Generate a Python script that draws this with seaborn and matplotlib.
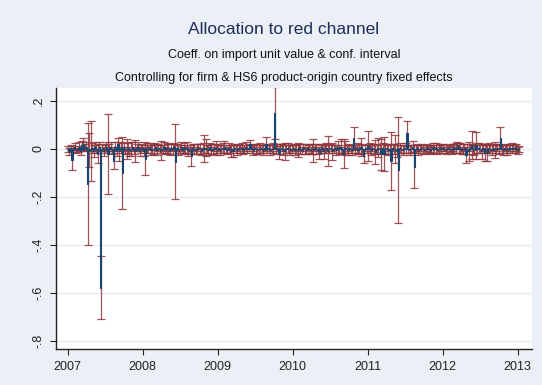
import numpy as np
import pandas as pd
import matplotlib
matplotlib.use("Agg")
import matplotlib.pyplot as plt
import seaborn as sns

# Weekly coefficients on import unit value and 95% CI half-widths, 2007-2013
start_date = "2007-01-01"

coef = [
    # 2007
    0.0, -0.01, 0.005, -0.045, 0.0, 0.01, -0.005, 0.0, 0.01, -0.01, 0.015, 0.02, 0.005,
    0.01, -0.145, -0.004, -0.007, 0.005, -0.01, 0.01, 0.0, -0.02, 0.01, -0.578, 0.005, -0.01,
    0.0, 0.01, -0.022, 0.005, 0.01, -0.005, -0.05, 0.01, -0.01, 0.02, -0.01, 0.005, -0.1,
    0.01, -0.005, 0.0, 0.005, -0.01, 0.0, 0.01, -0.005, -0.008, 0.005, 0.01, -0.01, 0.0,
    # 2008
    0.005, -0.01, -0.04, 0.005, 0.0, 0.01, -0.005, 0.0, 0.0, 0.01, -0.005, 0.005, 0.0,
    -0.005, 0.0, 0.01, -0.005, 0.005, 0.0, -0.01, 0.005, 0.0, 0.01, -0.053, 0.005, -0.005,
    0.0, 0.01, -0.005, 0.005, 0.0, 0.005, -0.01, 0.0, -0.03, 0.005, 0.0, -0.005, 0.0,
    0.005, 0.0, -0.01, 0.005, 0.003, 0.005, 0.0, -0.005, 0.01, 0.0, -0.005, 0.005, 0.005,
    # 2009
    0.0, 0.005, -0.005, 0.0, 0.005, 0.01, 0.0, -0.005, 0.005, 0.0, -0.01, -0.01, 0.005,
    0.0, -0.005, 0.005, 0.0, 0.005, -0.005, 0.0, 0.01, 0.0, 0.005, 0.022, 0.0, -0.005,
    0.005, 0.0, -0.005, 0.0, 0.005, 0.0, -0.005, 0.005, 0.02, 0.0, 0.005, -0.005, 0.0,
    0.005, 0.15, 0.0, 0.005, -0.015, 0.0, 0.005, -0.005, -0.01, 0.0, 0.005, 0.0, -0.005,
    # 2010
    0.0, 0.005, -0.005, 0.0, -0.005, 0.005, 0.0, -0.005, 0.005, 0.0, -0.005, 0.005, 0.0,
    -0.005, 0.0, -0.006, 0.005, 0.0, -0.005, -0.015, 0.0, 0.005, -0.01, 0.0, 0.005, -0.008,
    0.0, 0.005, -0.01, 0.0, 0.005, -0.005, 0.01, 0.0, 0.01, -0.005, -0.02, 0.005, 0.0,
    -0.005, 0.005, 0.0, -0.005, 0.045, 0.0, 0.005, -0.005, 0.0, 0.007, 0.0, -0.03, 0.005,
    # 2011
    0.0, 0.013, 0.005, -0.005, 0.005, 0.0, -0.013, 0.0, 0.005, 0.0, -0.022, 0.005, -0.02,
    0.0, 0.005, -0.005, 0.0, -0.05, 0.005, 0.0, 0.0, -0.01, -0.088, 0.005, 0.0, -0.005,
    0.0, 0.005, 0.065, 0.0, -0.005, 0.0, 0.01, -0.073, 0.0, 0.005, -0.005, 0.0, 0.005,
    0.0, -0.005, 0.0, 0.005, 0.0, -0.005, 0.0, 0.005, 0.0, 0.005, -0.005, 0.0, 0.005,
    # 2012
    0.0, 0.005, 0.0, -0.005, 0.0, 0.005, 0.0, -0.005, 0.005, 0.0, 0.005, 0.015, 0.005,
    0.005, -0.005, 0.0, 0.005, -0.025, 0.0, -0.01, 0.005, 0.016, 0.0, -0.005, 0.015, 0.005,
    0.005, 0.0, -0.01, 0.005, -0.015, 0.0, -0.015, 0.005, 0.0, -0.005, 0.005, -0.005, 0.0,
    0.005, 0.0, 0.045, 0.0, -0.005, 0.005, 0.0, -0.005, 0.005, 0.0, 0.005, 0.005, 0.0,
    # 2013
    0.005, -0.005, 0.0,
]

half_width = [
    # 2007
    0.012, 0.015, 0.010, 0.042, 0.012, 0.015, 0.010, 0.012, 0.020, 0.015, 0.020, 0.025, 0.015,
    0.02, 0.255, 0.07, 0.125, 0.02, 0.025, 0.02, 0.015, 0.04, 0.02, 0.132, 0.015, 0.02,
    0.015, 0.02, 0.167, 0.015, 0.02, 0.015, 0.035, 0.02, 0.02, 0.025, 0.04, 0.02, 0.15,
    0.02, 0.015, 0.04, 0.02, 0.02, 0.03, 0.02, 0.015, 0.045, 0.015, 0.02, 0.02, 0.015,
    # 2008
    0.015, 0.02, 0.07, 0.02, 0.015, 0.015, 0.02, 0.015, 0.02, 0.015, 0.02, 0.015, 0.015,
    0.04, 0.015, 0.02, 0.015, 0.02, 0.02, 0.015, 0.015, 0.02, 0.015, 0.156, 0.015, 0.02,
    0.015, 0.02, 0.015, 0.02, 0.015, 0.025, 0.02, 0.015, 0.04, 0.015, 0.02, 0.015, 0.02,
    0.015, 0.02, 0.015, 0.02, 0.056, 0.035, 0.015, 0.02, 0.015, 0.02, 0.015, 0.015, 0.03,
    # 2009
    0.015, 0.015, 0.02, 0.015, 0.02, 0.025, 0.015, 0.015, 0.02, 0.015, 0.025, 0.025, 0.015,
    0.015, 0.02, 0.015, 0.015, 0.02, 0.015, 0.015, 0.02, 0.015, 0.015, 0.016, 0.015, 0.02,
    0.015, 0.02, 0.015, 0.015, 0.02, 0.015, 0.02, 0.015, 0.03, 0.015, 0.015, 0.02, 0.015,
    0.02, 0.108, 0.02, 0.015, 0.028, 0.02, 0.015, 0.02, 0.034, 0.015, 0.02, 0.015, 0.02,
    # 2010
    0.015, 0.015, 0.02, 0.015, 0.03, 0.015, 0.02, 0.015, 0.015, 0.02, 0.015, 0.015, 0.015,
    0.015, 0.02, 0.048, 0.015, 0.02, 0.015, 0.025, 0.015, 0.015, 0.03, 0.015, 0.02, 0.062,
    0.015, 0.015, 0.035, 0.015, 0.01, 0.02, 0.025, 0.015, 0.03, 0.015, 0.06, 0.03, 0.015,
    0.02, 0.015, 0.015, 0.02, 0.048, 0.015, 0.02, 0.015, 0.02, 0.038, 0.015, 0.03, 0.015,
    # 2011
    0.015, 0.062, 0.02, 0.02, 0.015, 0.02, 0.05, 0.015, 0.04, 0.02, 0.064, 0.02, 0.07,
    0.02, 0.015, 0.02, 0.02, 0.12, 0.015, 0.02, 0.06, 0.025, 0.222, 0.02, 0.015, 0.02,
    0.015, 0.02, 0.052, 0.015, 0.02, 0.015, 0.023, 0.091, 0.015, 0.015, 0.02, 0.015, 0.015,
    0.015, 0.015, 0.015, 0.015, 0.012, 0.015, 0.015, 0.02, 0.015, 0.02, 0.015, 0.015, 0.015,
    # 2012
    0.015, 0.015, 0.01, 0.015, 0.015, 0.015, 0.012, 0.015, 0.015, 0.015, 0.02, 0.015, 0.02,
    0.02, 0.015, 0.02, 0.015, 0.035, 0.02, 0.04, 0.015, 0.059, 0.02, 0.02, 0.055, 0.02,
    0.02, 0.015, 0.03, 0.015, 0.035, 0.015, 0.035, 0.02, 0.015, 0.02, 0.015, 0.033, 0.015,
    0.015, 0.02, 0.045, 0.015, 0.02, 0.015, 0.015, 0.02, 0.015, 0.015, 0.02, 0.015, 0.015,
    # 2013
    0.015, 0.015, 0.012,
]

year_ticks = [2007, 2008, 2009, 2010, 2011, 2012, 2013]
y_ticks = [0.2, 0.0, -0.2, -0.4, -0.6, -0.8]
y_tick_labels = [".2", "0", "-.2", "-.4", "-.6", "-.8"]

title = "Allocation to red channel"
subtitle1 = "Coeff. on import unit value & conf. interval"
subtitle2 = "Controlling for firm & HS6 product-origin country fixed effects"

# Build the frame
dates = pd.date_range(start_date, periods=len(coef), freq="7D")
days_in_year = np.where(dates.is_leap_year, 366, 365)
dec_year = dates.year + (dates.dayofyear - 1) / days_in_year
df = pd.DataFrame({"year": dec_year, "coef": coef, "hw": half_width})

navy = "#1A476F"
maroon = "#90353B"
region_bg = "#EAF0F5"
grid_col = "#E6ECF2"

sns.set_theme(style="white")
plt.rcParams["font.family"] = ["Liberation Sans", "DejaVu Sans"]

fig = plt.figure(figsize=(5.42, 3.85), dpi=100, facecolor=region_bg)
ax = fig.add_axes([56 / 542, 1 - 349 / 385, (532 - 56) / 542, (349 - 88) / 385])
ax.set_facecolor("white")

# Confidence intervals as capped ranges
ax.errorbar(df["year"], df["coef"], yerr=df["hw"], fmt="none",
            ecolor=maroon, elinewidth=0.9, capsize=3.0, capthick=0.9,
            alpha=0.85, zorder=2)

# Point estimates as bars
sns.barplot(data=df, x="year", y="coef", native_scale=True, color=navy,
            width=0.9, linewidth=0.8, edgecolor=navy, saturation=1,
            errorbar=None, ax=ax, zorder=3)
for p in ax.patches:
    p.set_zorder(3)

ax.set_xlim(2006.845, 2013.19)
ax.set_ylim(-0.833, 0.254)
ax.set_xticks(year_ticks)
ax.set_xticklabels([str(y) for y in year_ticks])
ax.set_yticks(y_ticks)
ax.set_yticklabels(y_tick_labels, rotation=90, va="center")
ax.set_xlabel("")
ax.set_ylabel("")

ax.yaxis.grid(True, color=grid_col, linewidth=1.0)
ax.xaxis.grid(False)
ax.set_axisbelow(True)

for side in ["top", "right"]:
    ax.spines[side].set_visible(False)
for side in ["left", "bottom"]:
    ax.spines[side].set_color("#222222")
    ax.spines[side].set_linewidth(1.0)

ax.tick_params(axis="both", which="major", direction="out", length=4, width=0.8,
               color="#222222", labelsize=9, labelcolor="#222222",
               left=True, bottom=True)
ax.tick_params(axis="x", pad=5)
ax.tick_params(axis="y", pad=4)

cx = 284 / 542
fig.text(cx, 1 - 30 / 385, title, ha="center", va="center", fontsize=12.5,
         color="#1E2D5A")
fig.text(cx, 1 - 55 / 385, subtitle1, ha="center", va="center", fontsize=9,
         color="#111111")
fig.text(cx, 1 - 78 / 385, subtitle2, ha="center", va="center", fontsize=9,
         color="#111111")

fig.savefig("out.png", dpi=100, facecolor=region_bg)
